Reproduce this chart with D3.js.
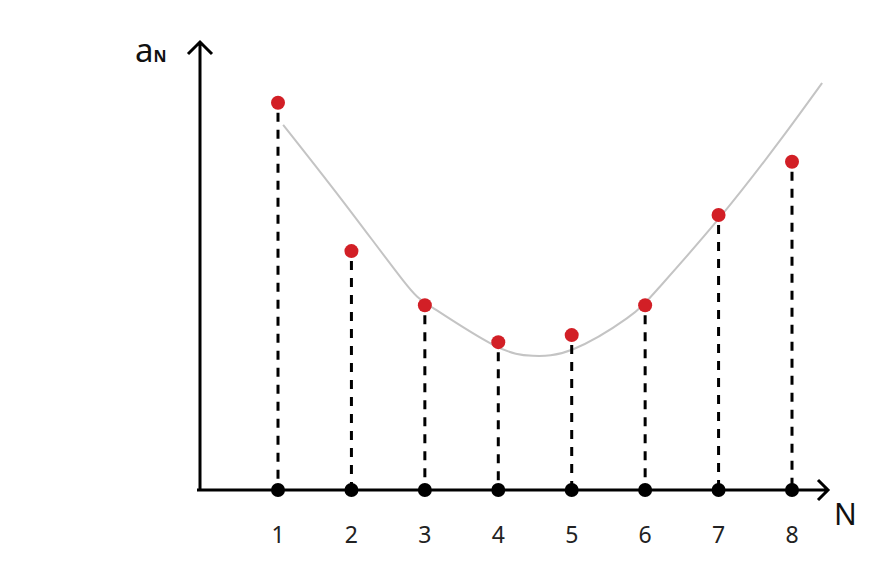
<!DOCTYPE html>
<html lang="en">
<head>
<meta charset="UTF-8">
<title>a_N sequence</title>
<script src="https://d3js.org/d3.v7.min.js"></script>
<style>
  body { margin: 0; background: #fff; }
  svg { display: block; }
  .tick-label { font-family: "Noto Sans", "Open Sans", sans-serif; font-size: 23px; fill: #222; }
</style>
</head>
<body>
<svg width="896" height="572"></svg>
<script>
// indices along the N axis
const nValues = [1, 2, 3, 4, 5, 6, 7, 8];
// sequence values a_N (red points)
const aValues = [8.80, 5.43, 4.20, 3.36, 3.52, 4.20, 6.25, 7.46];
// tick labels under the axis
const tickLabels = ["1", "2", "3", "4", "5", "6", "7", "8"];
// gray fitted curve
const curveN = [1.07, 1.89, 2.70, 3.11, 3.93, 4.47, 5.02, 5.75, 6.20, 7.02, 7.84, 8.41];
const curveA = [8.30, 6.55, 4.77, 4.14, 3.30, 3.05, 3.20, 3.90, 4.62, 6.20, 7.95, 9.25];

const svg = d3.select("svg");
const x = d3.scaleLinear().domain([1, 8]).range([278, 792]);
const y = d3.scaleLinear().domain([0, 10]).range([490, 50]);

const originX = 200, axisEndX = 828, axisTopY = 42;

// gray curve
const line = d3.line()
    .x(d => x(d[0]))
    .y(d => y(d[1]))
    .curve(d3.curveNatural);
svg.append("path")
    .attr("d", line(d3.zip(curveN, curveA)))
    .attr("fill", "none")
    .attr("stroke", "#c4c4c4")
    .attr("stroke-width", 2);

// dashed drop lines
svg.selectAll(".drop").data(nValues)
  .join("line")
    .attr("class", "drop")
    .attr("x1", d => x(d)).attr("x2", d => x(d))
    .attr("y1", (d, i) => y(aValues[i]) + 10)
    .attr("y2", y(0))
    .attr("stroke", "#000")
    .attr("stroke-width", 3)
    .attr("stroke-dasharray", "9,8");

// axes
svg.append("path")
    .attr("d", `M${originX},${y(0) + 1}V${axisTopY}M${originX - 12},${axisTopY + 12}L${originX},${axisTopY}L${originX + 12},${axisTopY + 12}`)
    .attr("fill", "none").attr("stroke", "#000").attr("stroke-width", 3);
svg.append("path")
    .attr("d", `M${originX - 3},${y(0)}H${axisEndX}M${axisEndX - 10},${y(0) - 10}L${axisEndX},${y(0)}L${axisEndX - 10},${y(0) + 10}`)
    .attr("fill", "none").attr("stroke", "#000").attr("stroke-width", 3);

// black dots on the axis
svg.selectAll(".base").data(nValues)
  .join("circle")
    .attr("class", "base")
    .attr("cx", d => x(d)).attr("cy", y(0))
    .attr("r", 7).attr("fill", "#000");

// red sequence points
svg.selectAll(".pt").data(nValues)
  .join("circle")
    .attr("class", "pt")
    .attr("cx", d => x(d)).attr("cy", (d, i) => y(aValues[i]))
    .attr("r", 7).attr("fill", "#d21f26");

// tick labels
svg.selectAll(".tick-label").data(nValues)
  .join("text")
    .attr("class", "tick-label")
    .attr("x", d => x(d)).attr("y", 543)
    .attr("text-anchor", "middle")
    .text((d, i) => tickLabels[i]);

// axis names
svg.append("text")
    .attr("x", 834).attr("y", 525)
    .attr("font-family", "'Noto Sans', sans-serif")
    .attr("font-size", 30).attr("fill", "#111")
    .text("N");
const aLabel = svg.append("text")
    .attr("x", 135).attr("y", 62)
    .attr("font-family", "'Noto Sans', sans-serif")
    .attr("fill", "#111");
aLabel.append("tspan").attr("font-size", 33).text("a");
aLabel.append("tspan").attr("font-size", 16).attr("font-weight", "bold").text("N");
</script>
</body>
</html>
